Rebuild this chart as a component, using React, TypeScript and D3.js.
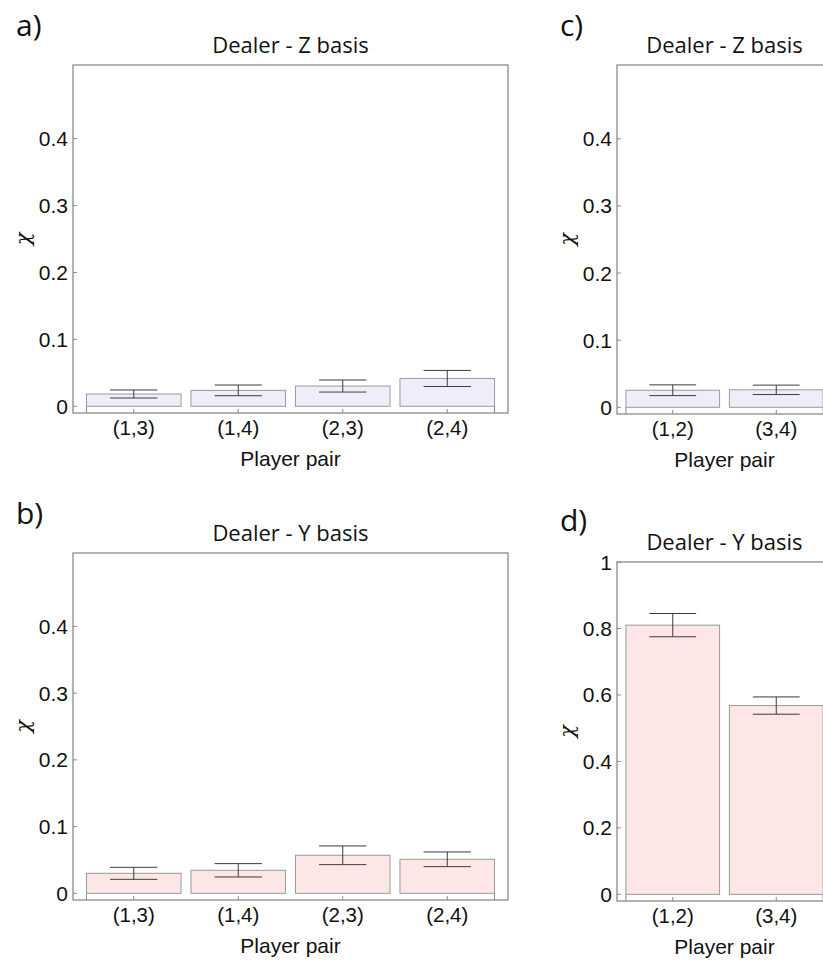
import React from "react";
import * as d3 from "d3";

// Player pairs
const pairsFour = ["(1,3)", "(1,4)", "(2,3)", "(2,4)"];
const pairsTwo = ["(1,2)", "(3,4)"];

// χ per pair, with the half-width of each error bar
const zBasisFour = [0.0184, 0.0238, 0.0303, 0.0416];
const zBasisFourErr = [0.006, 0.008, 0.009, 0.012];
const yBasisFour = [0.03, 0.0345, 0.057, 0.051];
const yBasisFourErr = [0.009, 0.01, 0.014, 0.011];
const zBasisTwo = [0.0254, 0.026];
const zBasisTwoErr = [0.008, 0.007];
const yBasisTwo = [0.81, 0.568];
const yBasisTwoErr = [0.035, 0.026];

// Tick values
const smallTicks = [0, 0.1, 0.2, 0.3, 0.4];
const largeTicks = [0, 0.2, 0.4, 0.6, 0.8, 1];

const LAVENDER = "#eeeefb";
const PINK = "#fde6e6";
const FRAME = "#8a8a8a";
const BAR_STROKE = "#9a9a9a";
const ERR = "#3c3c3c";
const SANS = "'Liberation Sans', Arial, Helvetica, sans-serif";
const TITLE_FONT = "'Open Sans', 'Noto Sans', sans-serif";

type PanelSpec = {
  tag: string;
  title: string;
  cats: string[];
  values: number[];
  errs: number[];
  fill: string;
  ticks: number[];
  yDomain: [number, number];
  box: { x0: number; x1: number; y0: number; y1: number };
  pad: number;
};

const panels: PanelSpec[] = [
  {
    tag: "a)",
    title: "Dealer - Z basis",
    cats: pairsFour,
    values: zBasisFour,
    errs: zBasisFourErr,
    fill: LAVENDER,
    ticks: smallTicks,
    yDomain: [-0.01, 0.51],
    box: { x0: 73, x1: 508, y0: 65, y1: 413 },
    pad: 8.5,
  },
  {
    tag: "b)",
    title: "Dealer - Y basis",
    cats: pairsFour,
    values: yBasisFour,
    errs: yBasisFourErr,
    fill: PINK,
    ticks: smallTicks,
    yDomain: [-0.01, 0.51],
    box: { x0: 73, x1: 508, y0: 553, y1: 900 },
    pad: 8.5,
  },
  {
    tag: "c)",
    title: "Dealer - Z basis",
    cats: pairsTwo,
    values: zBasisTwo,
    errs: zBasisTwoErr,
    fill: LAVENDER,
    ticks: smallTicks,
    yDomain: [-0.01, 0.51],
    box: { x0: 617, x1: 832, y0: 65, y1: 414 },
    pad: 4,
  },
  {
    tag: "d)",
    title: "Dealer - Y basis",
    cats: pairsTwo,
    values: yBasisTwo,
    errs: yBasisTwoErr,
    fill: PINK,
    ticks: largeTicks,
    yDomain: [-0.02, 1.0],
    box: { x0: 617, x1: 832, y0: 562, y1: 901 },
    pad: 4,
  },
];

function fmt(v: number) {
  return v === 0 ? "0" : v === 1 ? "1" : String(v);
}

function Panel({ p }: { p: PanelSpec }) {
  const { box } = p;
  const x = d3
    .scaleBand<string>()
    .domain(p.cats)
    .range([box.x0 + p.pad, box.x1 - p.pad])
    .paddingInner(0.095)
    .paddingOuter(0.0475);
  const y = d3.scaleLinear().domain(p.yDomain).range([box.y1, box.y0]);
  const bw = x.bandwidth();
  const y0 = y(0);
  const cx = (box.x0 + box.x1) / 2;
  const cy = (box.y0 + box.y1) / 2;
  const firstLeft = x(p.cats[0])!;
  const lastRight = x(p.cats[p.cats.length - 1])! + bw;
  const tagTop = p.tag === "d)" ? box.y0 - 2 : box.y0;

  return (
    <g>
      <text x={box.x0 - 57} y={tagTop - 29} fontFamily={TITLE_FONT} fontSize={30} fill="#111">
        {p.tag}
      </text>
      <text
        x={cx}
        y={box.y0 - 12}
        textAnchor="middle"
        fontFamily={TITLE_FONT}
        fontSize={22}
        fill="#111"
      >
        {p.title}
      </text>

      {/* bars */}
      {p.cats.map((c, i) => (
        <rect
          key={"bar" + c}
          x={x(c)!}
          y={y(p.values[i])}
          width={bw}
          height={y0 - y(p.values[i])}
          fill={p.fill}
          stroke={BAR_STROKE}
          strokeWidth={1}
        />
      ))}

      {/* error bars */}
      {p.cats.map((c, i) => {
        const mx = x(c)! + bw / 2;
        const hi = y(p.values[i] + p.errs[i]);
        const lo = y(p.values[i] - p.errs[i]);
        const hw = bw * 0.25;
        return (
          <g key={"err" + c} stroke={ERR} strokeWidth={1}>
            <line x1={mx} x2={mx} y1={hi} y2={lo} />
            <line x1={mx - hw} x2={mx + hw} y1={hi} y2={hi} />
            <line x1={mx - hw} x2={mx + hw} y1={lo} y2={lo} />
          </g>
        );
      })}

      {/* frame */}
      <rect
        x={box.x0}
        y={box.y0}
        width={box.x1 - box.x0}
        height={box.y1 - box.y0}
        fill="none"
        stroke={FRAME}
        strokeWidth={1.3}
      />

      {/* y ticks */}
      {p.ticks.map((t) => (
        <g key={"yt" + t}>
          <line x1={box.x0} x2={box.x0 + 4} y1={y(t)} y2={y(t)} stroke={FRAME} strokeWidth={1} />
          <text
            x={box.x0 - 5}
            y={y(t)}
            textAnchor="end"
            dominantBaseline="central"
            fontFamily={SANS}
            fontSize={21}
            fill="#111"
          >
            {fmt(t)}
          </text>
        </g>
      ))}

      {/* x ticks at bar centres and outer bar edges */}
      {p.cats.map((c) => (
        <g key={"xt" + c}>
          <line
            x1={x(c)! + bw / 2}
            x2={x(c)! + bw / 2}
            y1={box.y1}
            y2={box.y1 - 4}
            stroke={FRAME}
            strokeWidth={1}
          />
          <text
            x={x(c)! + bw / 2}
            y={box.y1 + 22}
            textAnchor="middle"
            fontFamily={SANS}
            fontSize={20.5}
            fill="#111"
          >
            {c}
          </text>
        </g>
      ))}
      {[firstLeft, lastRight].map((ex, i) => (
        <line key={"edge" + i} x1={ex} x2={ex} y1={y0} y2={box.y1} stroke={FRAME} strokeWidth={1} />
      ))}

      <text
        x={cx}
        y={box.y1 + 53}
        textAnchor="middle"
        fontFamily={SANS}
        fontSize={21}
        fill="#111"
      >
        Player pair
      </text>
      <text
        transform={`translate(${box.x0 - 50},${cy}) rotate(-90)`}
        textAnchor="middle"
        dominantBaseline="central"
        fontFamily="'DejaVu Serif', serif"
        fontStyle="italic"
        fontSize={21}
        fill="#111"
      >
        χ
      </text>
    </g>
  );
}

export default function App() {
  return (
    <div style={{ position: "absolute", left: 0, top: 0 }}>
      <svg width={823} height={965} style={{ display: "block", background: "#fff" }}>
        <rect width={823} height={965} fill="#fff" />
        {panels.map((p) => (
          <Panel key={p.tag} p={p} />
        ))}
      </svg>
    </div>
  );
}
